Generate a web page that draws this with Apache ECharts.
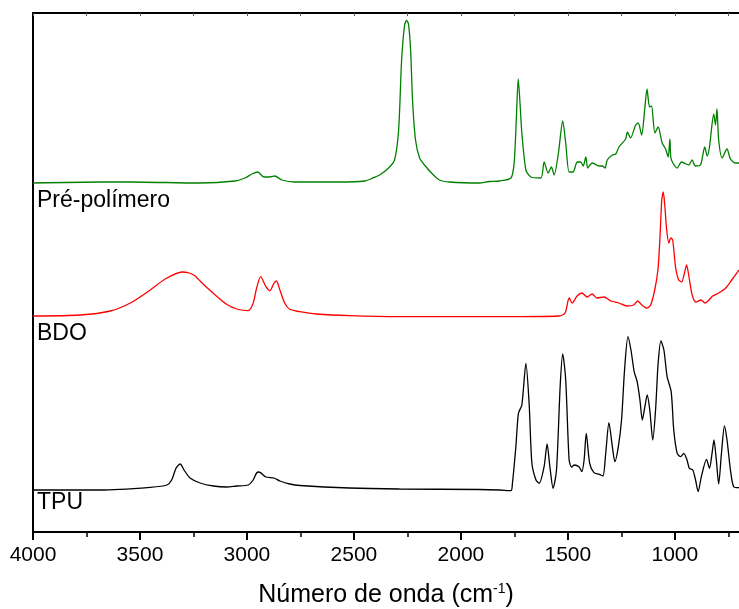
<!DOCTYPE html>
<html>
<head>
<meta charset="utf-8">
<title>FTIR</title>
<script src="https://cdn.jsdelivr.net/npm/echarts@6/dist/echarts.min.js"></script>
<style>
  html, body { margin: 0; padding: 0; background: #fff; }
  #chart { width: 739px; height: 609px; }
</style>
</head>
<body>
<div id="chart"></div>
<script>
// wavenumber (cm-1) / absorbance (a.u., curves already offset)
var preWn = [4000, 3685, 3545, 3219, 3056, 3009, 2977, 2949, 2921, 2893, 2870, 2837, 2776, 2566, 2450, 2417, 2380, 2338, 2310, 2291,
  2277, 2263, 2254, 2245, 2235, 2226, 2212, 2193, 2170, 2133, 2100, 2054, 1914, 1867, 1820, 1766, 1751, 1741, 1732, 1723,
  1715, 1696, 1673, 1626, 1611, 1592, 1577, 1564, 1544, 1524, 1510, 1494, 1476, 1456, 1440, 1428, 1416, 1407, 1386, 1354,
  1339, 1326, 1316, 1292, 1276, 1261, 1230, 1222, 1207, 1183, 1171, 1155, 1141, 1130, 1118, 1109, 1093, 1078, 1059, 1043,
  1031, 1023, 1019, 1009, 989, 969, 947, 935, 919, 904, 880, 860, 849, 838, 818, 810, 803, 795, 779, 756,
  740, 717, 700]
var preAbs = [3.49, 3.50, 3.50, 3.49, 3.51, 3.54, 3.58, 3.60, 3.55, 3.55, 3.56, 3.52, 3.50, 3.50, 3.51, 3.535, 3.57, 3.64, 3.72, 4.02,
  4.72, 5.07, 5.115, 5.08, 4.82, 4.32, 3.92, 3.74, 3.67, 3.58, 3.52, 3.50, 3.49, 3.505, 3.51, 3.54, 3.69, 4.12, 4.53, 4.27,
  3.99, 3.62, 3.55, 3.54, 3.70, 3.59, 3.65, 3.57, 3.79, 4.11, 3.89, 3.60, 3.60, 3.70, 3.70, 3.66, 3.75, 3.64, 3.69, 3.66,
  3.66, 3.64, 3.72, 3.77, 3.78, 3.85, 3.93, 4.00, 3.94, 4.07, 4.09, 3.97, 4.22, 4.43, 4.25, 4.26, 3.99, 4.05, 3.89, 3.83,
  3.75, 3.93, 3.75, 3.69, 3.64, 3.70, 3.68, 3.67, 3.72, 3.66, 3.67, 3.85, 3.76, 3.85, 4.18, 4.07, 4.23, 3.92, 3.74, 3.83,
  3.73, 3.69, 3.69]

var bdoWn = [4000, 3779, 3639, 3545, 3452, 3382, 3303, 3270, 3242, 3219, 3190, 3157, 3095, 3048, 2994, 2971, 2955, 2936, 2911, 2893, 2874, 2862,
  2846, 2823, 2800, 2753, 2675, 2520, 2287, 1820, 1541, 1513, 1494, 1480, 1457, 1434, 1410, 1387, 1364, 1331, 1299, 1262,
  1224, 1192, 1173, 1154, 1131, 1113, 1094, 1079, 1070, 1061, 1054, 1047, 1038, 1028, 1019, 1010, 996, 982, 968, 954,
  945, 933, 919, 901, 877, 859, 840, 823, 795, 762, 734, 700]
var bdoAbs = [2.16, 2.17, 2.21, 2.29, 2.42, 2.53, 2.60, 2.59, 2.56, 2.51, 2.45, 2.387, 2.277, 2.23, 2.213, 2.287, 2.437, 2.553, 2.453, 2.413, 2.487, 2.51,
  2.42, 2.287, 2.227, 2.203, 2.18, 2.163, 2.153, 2.153, 2.16, 2.19, 2.34, 2.29, 2.36, 2.39, 2.35, 2.38, 2.34, 2.35, 2.31, 2.29,
  2.26, 2.27, 2.31, 2.27, 2.24, 2.27, 2.42, 2.62, 2.92, 3.32, 3.40, 3.27, 3.02, 2.89, 2.94, 2.92, 2.64, 2.52, 2.50, 2.60,
  2.67, 2.54, 2.37, 2.30, 2.32, 2.29, 2.32, 2.36, 2.39, 2.44, 2.52, 2.62]

var tpuWn = [4000, 3685, 3452, 3374, 3352, 3331, 3312, 3294, 3266, 3219, 3157, 3095, 3048, 2994, 2971, 2955, 2944, 2911, 2874, 2846,
  2800, 2753, 2520, 2287, 1914, 1820, 1766, 1759, 1743, 1731, 1715, 1696, 1681, 1668, 1649, 1634, 1611, 1597, 1584, 1569,
  1553, 1536, 1524, 1510, 1494, 1482, 1471, 1448, 1435, 1424, 1414, 1398, 1378, 1354, 1336, 1323, 1308, 1292, 1280, 1264,
  1249, 1235, 1219, 1205, 1190, 1176, 1163, 1152, 1140, 1129, 1117, 1103, 1090, 1078, 1065, 1051, 1036, 1017, 1005, 989,
  973, 958, 943, 932, 916, 903, 891, 876, 852, 838, 826, 817, 806, 795, 782, 768, 756, 740, 725, 700]
var tpuAbs = [0.42, 0.42, 0.447, 0.47, 0.52, 0.64, 0.68, 0.62, 0.54, 0.49, 0.46, 0.45, 0.46, 0.47, 0.52, 0.59, 0.60, 0.55, 0.54, 0.51,
  0.48, 0.465, 0.44, 0.43, 0.425, 0.42, 0.413, 0.487, 0.853, 1.187, 1.27, 1.687, 1.287, 0.687, 0.52, 0.487, 0.653, 0.88, 0.653, 0.437,
  0.62, 1.453, 1.78, 1.52, 0.72, 0.647, 0.67, 0.653, 0.603, 0.72, 0.987, 0.687, 0.593, 0.577, 0.56, 0.787, 1.093, 0.853, 0.703, 0.853,
  1.12, 1.62, 1.953, 1.82, 1.603, 1.503, 1.32, 1.12, 1.253, 1.37, 1.22, 0.92, 1.22, 1.687, 1.91, 1.82, 1.553, 1.403, 1.02, 0.787,
  0.753, 0.787, 0.72, 0.637, 0.62, 0.52, 0.403, 0.553, 0.727, 0.637, 0.787, 0.92, 0.72, 0.48, 0.787, 1.06, 0.92, 0.62, 0.453, 0.443]

var majorTicks = [4000, 3500, 3000, 2500, 2000, 1500, 1000]
var minorTicks = [3750, 3250, 2750, 2250, 1750, 1250, 750]
var allTicks = [4000, 3750, 3500, 3250, 3000, 2750, 2500, 2250, 2000, 1750, 1500, 1250, 1000, 750]
var seriesNames = ['Pré-polímero', 'BDO', 'TPU']
var seriesColors = ['#008000', '#ff0000', '#000000']

function pairs(xs, ys) {
  var out = []
  for (var i = 0; i < xs.length; i++) out.push([xs[i], ys[i]])
  return out
}

var chart = echarts.init(document.getElementById('chart'))
var font = 'Liberation Sans, Arial, sans-serif'

var xBase = {
  type: 'value',
  gridIndex: 0,
  min: 700,
  max: 4000,
  inverse: true,
  splitLine: { show: false }
}

chart.setOption({
  animation: false,
  backgroundColor: '#fff',
  grid: { left: 33, right: 0, top: 13, bottom: 77, containLabel: false, outerBoundsMode: 'none' },
  xAxis: [
    Object.assign({}, xBase, {
      position: 'bottom',
      axisLine: { lineStyle: { color: '#000', width: 2 } },
      axisTick: { length: 8, lineStyle: { color: '#000', width: 2 }, customValues: majorTicks },
      axisLabel: {
        customValues: majorTicks, color: '#000', fontSize: 21, fontFamily: font, margin: 13,
        formatter: function (v) { return String(v) }
      },
      name: 'Número de onda (cm{sup|-1})',
      nameLocation: 'middle',
      nameGap: 50,
      nameTextStyle: {
        color: '#000', fontSize: 25, fontFamily: font,
        rich: { sup: { fontSize: 14, color: '#000', fontFamily: font, verticalAlign: 'top', padding: [0, 0, 12, 0] } }
      }
    }),
    // minor ticks
    Object.assign({}, xBase, {
      position: 'bottom',
      offset: 0,
      axisLine: { show: true, lineStyle: { color: '#000', width: 2 } },
      axisTick: { show: true, length: 5, lineStyle: { color: '#000', width: 1.5 }, customValues: minorTicks },
      axisLabel: { show: true, customValues: minorTicks, formatter: function () { return '' } }
    }),
    // top frame
    Object.assign({}, xBase, {
      position: 'top',
      axisLine: { lineStyle: { color: '#000', width: 2 } },
      axisTick: { show: true, length: 3, inside: true, lineStyle: { color: '#555', width: 1 }, customValues: allTicks },
      axisLabel: { show: true, customValues: allTicks, formatter: function () { return '' } }
    })
  ],
  yAxis: {
    type: 'value',
    min: 0,
    max: 5.19,
    axisLine: { show: true, lineStyle: { color: '#000', width: 2 } },
    axisTick: { show: false },
    axisLabel: { show: false },
    splitLine: { show: false }
  },
  series: [
    { name: seriesNames[0], data: pairs(preWn, preAbs), color: seriesColors[0] },
    { name: seriesNames[1], data: pairs(bdoWn, bdoAbs), color: seriesColors[1] },
    { name: seriesNames[2], data: pairs(tpuWn, tpuAbs), color: seriesColors[2] }
  ].map(function (s) {
    return {
      name: s.name,
      type: 'line',
      xAxisIndex: 0,
      data: s.data,
      showSymbol: false,
      smooth: 0.25,
      lineStyle: { color: s.color, width: 1.3 },
      itemStyle: { color: s.color }
    }
  }),
  graphic: [
    { type: 'text', left: 37, top: 189, style: { text: seriesNames[0], fontSize: 23, fontFamily: font, fill: '#000' } },
    { type: 'text', left: 37, top: 322, style: { text: seriesNames[1], fontSize: 23, fontFamily: font, fill: '#000' } },
    { type: 'text', left: 37, top: 491, style: { text: seriesNames[2], fontSize: 23, fontFamily: font, fill: '#000' } }
  ]
})
</script>
</body>
</html>
